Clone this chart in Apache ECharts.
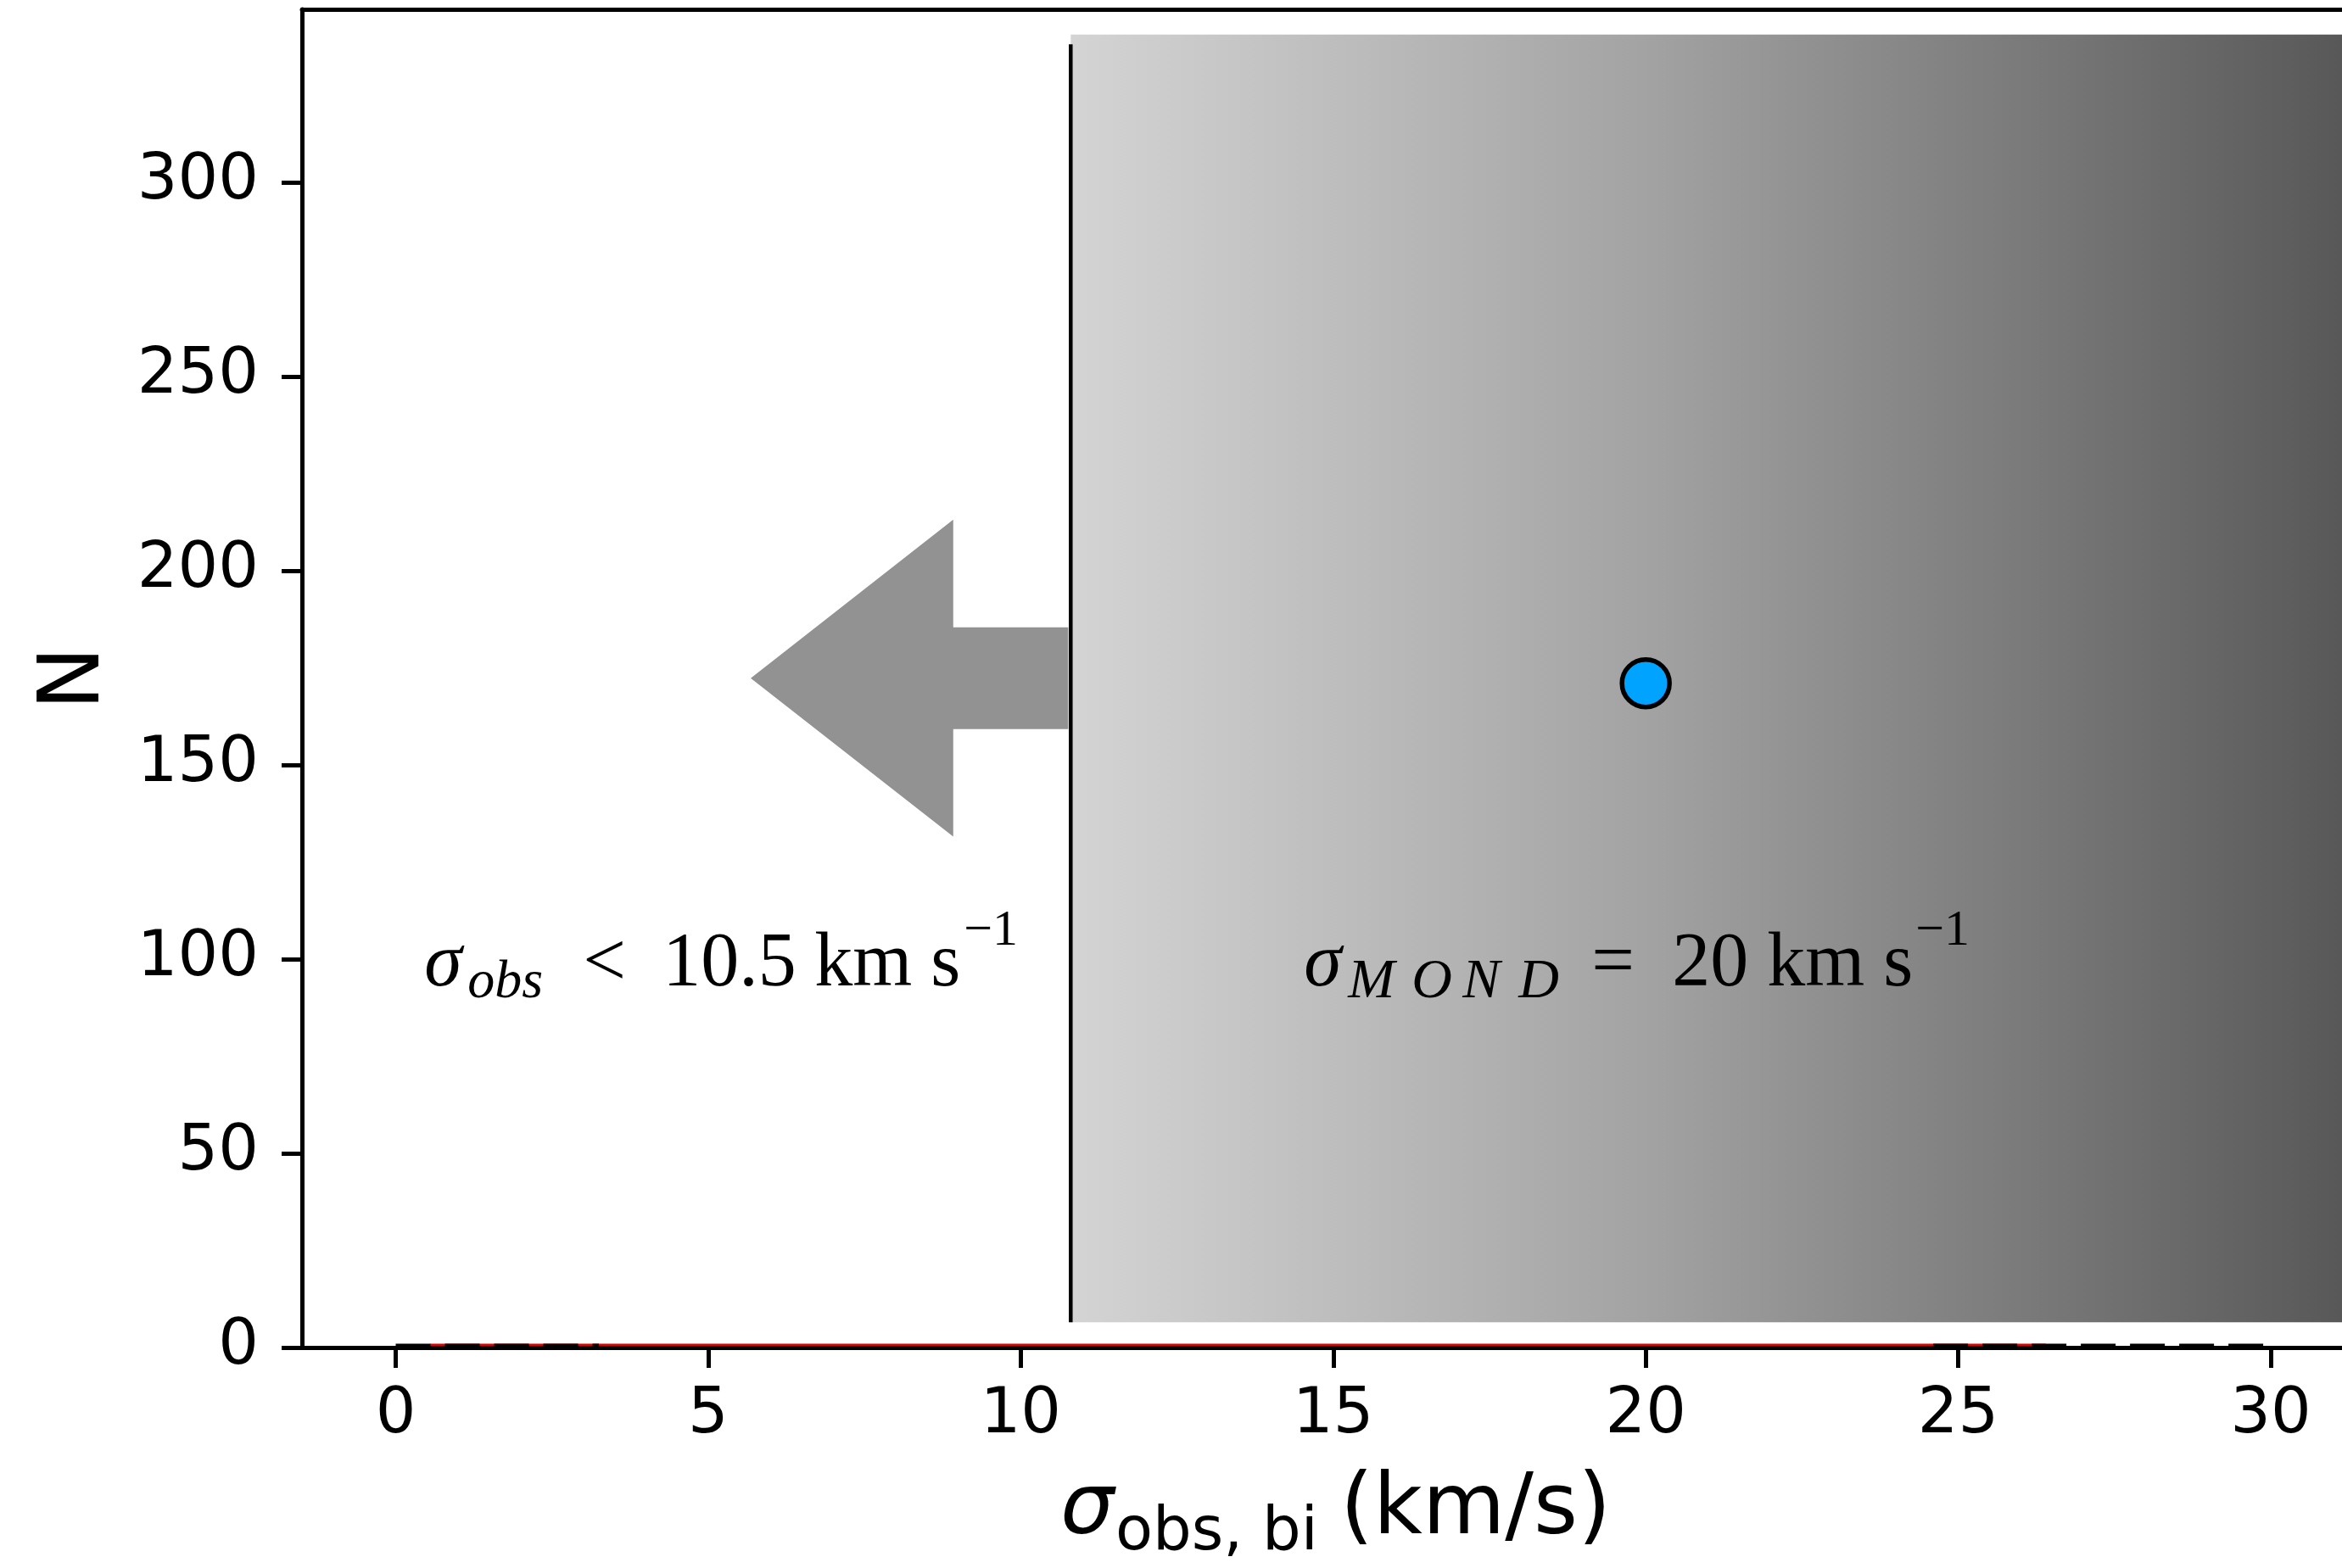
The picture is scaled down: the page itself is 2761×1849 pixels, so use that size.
<!DOCTYPE html>
<html>
<head>
<meta charset="utf-8">
<title>σ_obs,bi distribution</title>
<script src="https://cdn.jsdelivr.net/npm/echarts@6/dist/echarts.min.js"></script>
<style>
  html, body { margin: 0; padding: 0; background: #ffffff; }
  #chart { width: 2761px; height: 1849px; }
</style>
</head>
<body>
<div id="chart"></div>
<script>
// ---- axes ----
const xTicks = [0, 5, 10, 15, 20, 25, 30];
const yTicks = [0, 50, 100, 150, 200, 250, 300];
const xRange = [-1.5, 31.14];
const yRange = [0, 344.5];

// ---- observed upper limit and MOND expectation ----
const cutLine = [[10.8, 6.5, 335.5]];            // x, y from, y to
const mondBand = [[10.8, 31.14, 6.5, 338]];      // x from, x to, y from, y to
const bandStops = [0, 0.45, 1];
const bandGrays = ['#d4d4d4', '#a3a3a3', '#585858'];
const mondPoint = [[20, 171]];

// arrow pointing to lower dispersions: tail x, tip x, y, shaft width, head width, head length
const arrowSpec = [[10.76, 5.68, 172.3, 26.2, 81.6, 3.24]];

// ---- model curves (flat at zero on this range) ----
const redCurve = [[0.55, 0, 26.4, 0]];
const blackCurve = [[0, 0, 3.25, 0], [24.6, 0, 30, 0]];

// ---- annotations ----
const notePos = [[5.35, 100], [20, 100]];
const noteText = [
  '{g|σ}{sub|obs}{rel|<}{num|10.5}{unit|km}{s|s}{sup|−1}',
  '{g2|σ}{m|M}{o|O}{n|N}{d|D}{rel2|=}{num2|20}{unit2|km}{s2|s}{sup2|−1}'
];

const SERIF = '"Liberation Serif", "DejaVu Serif", serif';
const SANS = '"DejaVu Sans", sans-serif';

// rich-text token: every piece is top-aligned, its baseline set by the top padding
const LINE_H = 125.1, BASE = 100.26, K_MID = 0.8375;
function tok(size, width, italic, padTop) {
  const top = padTop !== undefined ? padTop : BASE - K_MID * size;
  return {
    fontFamily: SERIF, fontSize: size, fontStyle: italic ? 'italic' : 'normal',
    color: '#000', width: width, align: 'left', verticalAlign: 'top',
    height: size, padding: [top, 0, Math.max(0, LINE_H - top - size), 0]
  };
}
const MAIN = 90, SUB = 64, SUB_CAPS = 66, SUP = 60;
const lowered = BASE + 12;   // subscript baseline
const sub = (size, width) => tok(size, width, true, lowered - K_MID * size);
const sup = (width) => tok(SUP, width, false, 0);
const noteRich = {
  g: tok(MAIN, 51, true),
  sub: sub(SUB, 136),
  rel: tok(MAIN, 94, false),
  num: tok(MAIN, 179, false),
  unit: tok(MAIN, 137, false),
  s: tok(MAIN, 39, false),
  sup: sup(85),
  g2: tok(MAIN, 52, true),
  m: sub(SUB_CAPS, 75),
  o: sub(SUB_CAPS, 60),
  n: sub(SUB_CAPS, 66),
  d: sub(SUB_CAPS, 86),
  rel2: tok(MAIN, 95, false),
  num2: tok(MAIN, 112, false),
  unit2: tok(MAIN, 137, false),
  s2: tok(MAIN, 38, false),
  sup2: sup(85)
};

const chart = echarts.init(document.getElementById('chart'), null, { renderer: 'canvas' });

const axisInk = { color: '#000', width: 5 };

const option = {
  animation: false,
  backgroundColor: '#ffffff',
  grid: { left: 356, top: 11, right: 0, height: 1580, show: false },
  xAxis: [
    {
      type: 'value', min: xRange[0], max: xRange[1], z: 10, position: 'bottom',
      name: '{s|σ}{b|obs, bi}{u|(km/s)}',
      nameLocation: 'middle', nameGap: 143.4,
      nameTextStyle: {
        padding: [0, 0, 0, 28],
        rich: {
          s: { fontFamily: SANS, fontSize: 100, fontStyle: 'italic', color: '#000', width: 65, align: 'left', verticalAlign: 'top', height: 100 },
          b: { fontFamily: SANS, fontSize: 72, color: '#000', width: 265, align: 'left', verticalAlign: 'top', height: 72, padding: [39.7, 0, 0, 0] },
          u: { fontFamily: SANS, fontSize: 100, color: '#000', width: 315, align: 'left', verticalAlign: 'top', height: 100 }
        }
      },
      axisLine: { show: true, onZero: false, lineStyle: axisInk },
      axisTick: { show: true, length: 24, lineStyle: axisInk, customValues: xTicks },
      axisLabel: { show: true, customValues: xTicks, margin: 43, fontSize: 75, fontFamily: SANS, color: '#000' },
      splitLine: { show: false }
    },
    {
      // upper frame edge
      type: 'value', min: xRange[0], max: xRange[1], z: 10, position: 'top',
      axisLine: { show: true, onZero: false, lineStyle: axisInk },
      axisTick: { show: false }, axisLabel: { show: false }, splitLine: { show: false }
    }
  ],
  yAxis: {
    type: 'value', min: yRange[0], max: yRange[1], z: 10,
    name: 'N', nameLocation: 'middle', nameGap: 216,
    nameTextStyle: { fontFamily: SANS, fontSize: 100, color: '#000' },
    axisLine: { show: true, onZero: false, lineStyle: axisInk },
    axisTick: { show: true, length: 24, lineStyle: axisInk, customValues: yTicks },
    axisLabel: { show: true, customValues: yTicks, margin: 51, fontSize: 75, fontFamily: SANS, color: '#000' },
    splitLine: { show: false }
  },
  series: [
    {
      // shaded MOND region
      type: 'custom', z: 1, clip: true, silent: true,
      encode: { x: [0, 1], y: [2, 3] },
      data: mondBand,
      renderItem: function (params, api) {
        const a = api.coord([api.value(0), api.value(3)]);
        const b = api.coord([api.value(1), api.value(2)]);
        return {
          type: 'rect',
          shape: { x: a[0], y: a[1], width: b[0] - a[0], height: b[1] - a[1] },
          style: {
            fill: {
              type: 'linear', x: 0, y: 0, x2: 1, y2: 0,
              colorStops: bandStops.map((o, i) => ({ offset: o, color: bandGrays[i] }))
            }
          }
        };
      }
    },
    {
      // observational cut
      type: 'custom', z: 3, clip: true, silent: true,
      encode: { x: 0, y: [1, 2] },
      data: cutLine,
      renderItem: function (params, api) {
        const a = api.coord([api.value(0), api.value(1)]);
        const b = api.coord([api.value(0), api.value(2)]);
        return {
          type: 'line',
          shape: { x1: a[0], y1: a[1], x2: b[0], y2: b[1] },
          style: { stroke: '#000', lineWidth: 4.5 }
        };
      }
    },
    {
      // arrow towards the allowed side
      type: 'custom', z: 3, clip: true, silent: true,
      encode: { x: [0, 1], y: 2 },
      data: arrowSpec,
      renderItem: function (params, api) {
        const x0 = api.value(0), x1 = api.value(1), y = api.value(2);
        const hw = api.value(3) / 2, hh = api.value(4) / 2, hl = api.value(5);
        const xb = x1 + hl;
        const pts = [
          [x0, y + hw], [xb, y + hw], [xb, y + hh], [x1, y],
          [xb, y - hh], [xb, y - hw], [x0, y - hw]
        ].map(p => api.coord(p));
        return { type: 'polygon', shape: { points: pts }, style: { fill: '#929292' } };
      }
    },
    {
      // red model curve
      type: 'custom', z: 2, clip: true, silent: true,
      encode: { x: [0, 2], y: [1, 3] },
      data: redCurve,
      renderItem: function (params, api) {
        const a = api.coord([api.value(0), api.value(1)]);
        const b = api.coord([api.value(2), api.value(3)]);
        return {
          type: 'line', shape: { x1: a[0], y1: a[1], x2: b[0], y2: b[1] },
          style: { stroke: '#e00000', lineWidth: 9 }
        };
      }
    },
    {
      // black dashed model curve
      type: 'custom', z: 3, clip: true, silent: true,
      encode: { x: [0, 2], y: [1, 3] },
      data: blackCurve,
      renderItem: function (params, api) {
        const a = api.coord([api.value(0), api.value(1)]);
        const b = api.coord([api.value(2), api.value(3)]);
        return {
          type: 'line', shape: { x1: a[0], y1: a[1], x2: b[0], y2: b[1] },
          style: { stroke: '#000', lineWidth: 9, lineDash: [41, 17] }
        };
      }
    },
    {
      // MOND prediction
      type: 'scatter', z: 5, silent: true,
      data: mondPoint,
      symbol: 'circle', symbolSize: 56,
      itemStyle: { color: '#00a3ff', borderColor: '#000', borderWidth: 5.5, opacity: 1 }
    },
    {
      // annotations
      type: 'custom', z: 6, clip: false, silent: true,
      encode: { x: 0, y: 1 },
      data: notePos,
      renderItem: function (params, api) {
        const p = api.coord([api.value(0), api.value(1)]);
        return {
          type: 'text', x: p[0], y: p[1],
          style: {
            text: noteText[params.dataIndex], rich: noteRich,
            align: 'center', verticalAlign: 'middle'
          }
        };
      }
    }
  ]
};

chart.setOption(option);
</script>
</body>
</html>
